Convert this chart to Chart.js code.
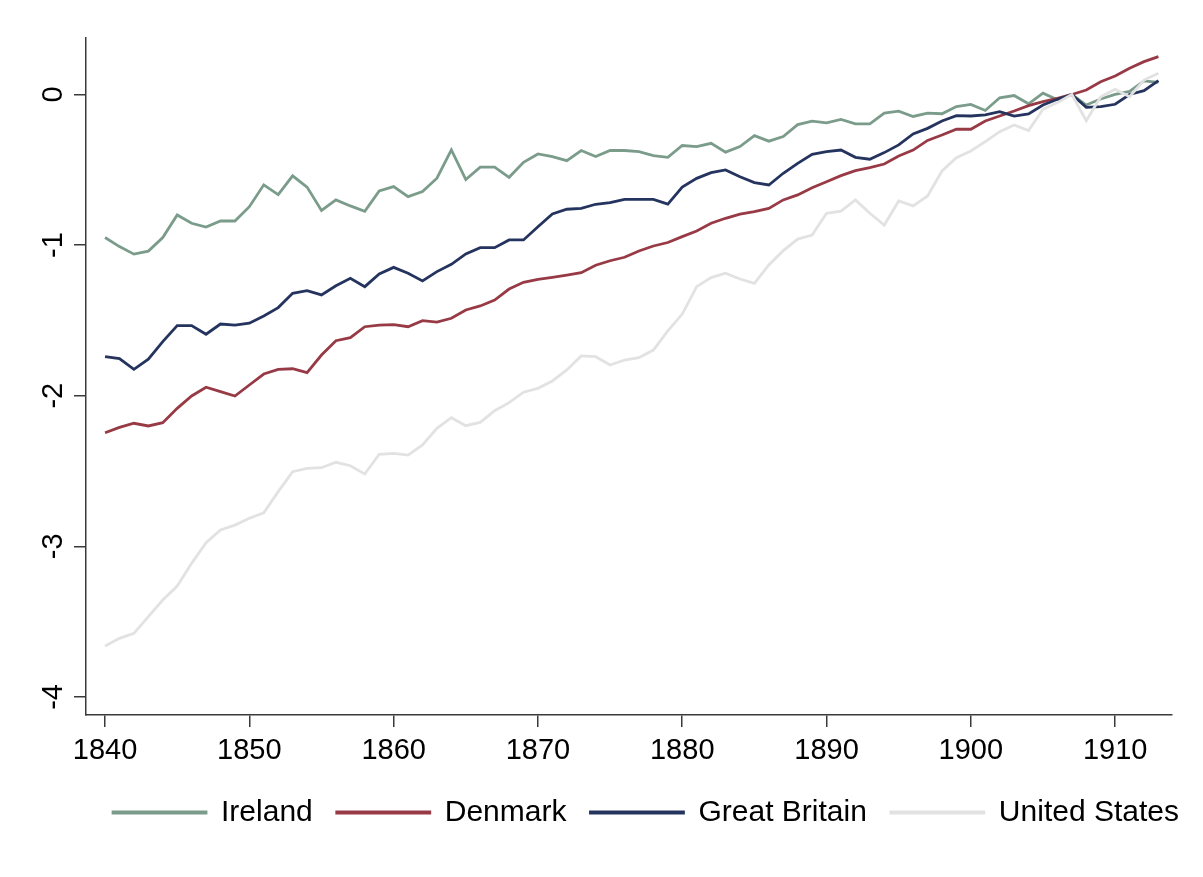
<!DOCTYPE html>
<html>
<head>
<meta charset="utf-8">
<script src="https://cdn.jsdelivr.net/npm/chart.js@4.4.1/dist/chart.umd.min.js"></script>
<style>
  html, body { margin: 0; padding: 0; background: #fff; }
  #wrap { width: 1203px; height: 877px; position: relative; }
</style>
</head>
<body>
<div id="wrap"><canvas id="chart"></canvas></div>
<script>
'use strict';

const years = [
  1840, 1841, 1842, 1843, 1844, 1845, 1846, 1847, 1848, 1849,
  1850, 1851, 1852, 1853, 1854, 1855, 1856, 1857, 1858, 1859,
  1860, 1861, 1862, 1863, 1864, 1865, 1866, 1867, 1868, 1869,
  1870, 1871, 1872, 1873, 1874, 1875, 1876, 1877, 1878, 1879,
  1880, 1881, 1882, 1883, 1884, 1885, 1886, 1887, 1888, 1889,
  1890, 1891, 1892, 1893, 1894, 1895, 1896, 1897, 1898, 1899,
  1900, 1901, 1902, 1903, 1904, 1905, 1906, 1907, 1908, 1909,
  1910, 1911, 1912, 1913
];

const ireland = [
  -0.95, -1.01, -1.06, -1.04, -0.95, -0.80, -0.855, -0.88, -0.84, -0.84,
  -0.745, -0.60, -0.665, -0.54, -0.615, -0.77, -0.70, -0.74, -0.775, -0.64,
  -0.612, -0.678, -0.645, -0.556, -0.368, -0.565, -0.483, -0.483, -0.55, -0.45,
  -0.395, -0.412, -0.439, -0.372, -0.412, -0.372, -0.372, -0.379, -0.406, -0.417,
  -0.339, -0.346, -0.324, -0.383, -0.346, -0.273, -0.31, -0.279, -0.20, -0.177,
  -0.188, -0.166, -0.195, -0.195, -0.124, -0.111, -0.146, -0.124, -0.128, -0.08,
  -0.066, -0.106, -0.022, -0.007, -0.062, 0.009, -0.035, 0, -0.07, -0.03,
  0.0, 0.02, 0.09, 0.08
];

const denmark = [
  -2.246, -2.21, -2.183, -2.201, -2.179, -2.084, -2.002, -1.944, -1.973, -2.002,
  -1.929, -1.856, -1.825, -1.821, -1.847, -1.73, -1.635, -1.615, -1.542, -1.531,
  -1.528, -1.542, -1.502, -1.511, -1.486, -1.431, -1.404, -1.365, -1.292, -1.247,
  -1.227, -1.214, -1.199, -1.183, -1.134, -1.104, -1.081, -1.039, -1.006, -0.983,
  -0.944, -0.906, -0.855, -0.822, -0.794, -0.778, -0.756, -0.70, -0.667, -0.619,
  -0.579, -0.539, -0.506, -0.486, -0.462, -0.408, -0.369, -0.305, -0.269, -0.23,
  -0.231, -0.176, -0.143, -0.11, -0.074, -0.048, -0.025, 0, 0.03, 0.085,
  0.123, 0.174, 0.218, 0.251
];

const greatBritain = [
  -1.741, -1.754, -1.825, -1.758, -1.641, -1.535, -1.535, -1.592, -1.524, -1.531,
  -1.519, -1.471, -1.415, -1.32, -1.303, -1.331, -1.27, -1.22, -1.276, -1.192,
  -1.148, -1.187, -1.238, -1.176, -1.128, -1.059, -1.017, -1.017, -0.966, -0.966,
  -0.878, -0.793, -0.762, -0.756, -0.729, -0.718, -0.696, -0.696, -0.696, -0.728,
  -0.615, -0.557, -0.519, -0.501, -0.546, -0.585, -0.601, -0.523, -0.457, -0.397,
  -0.38, -0.369, -0.417, -0.43, -0.386, -0.335, -0.262, -0.225, -0.176, -0.14,
  -0.143, -0.136, -0.114, -0.143, -0.129, -0.07, -0.032, 0, -0.085, -0.081,
  -0.065, 0, 0.025, 0.092
];

const unitedStates = [
  -3.662, -3.611, -3.578, -3.467, -3.357, -3.264, -3.113, -2.976, -2.892, -2.859,
  -2.814, -2.777, -2.637, -2.505, -2.482, -2.478, -2.442, -2.465, -2.52, -2.389,
  -2.383, -2.394, -2.327, -2.217, -2.146, -2.199, -2.177, -2.1, -2.046, -1.977,
  -1.951, -1.902, -1.829, -1.736, -1.741, -1.796, -1.763, -1.748, -1.697, -1.57,
  -1.458, -1.276, -1.216, -1.187, -1.225, -1.254, -1.132, -1.037, -0.96, -0.933,
  -0.789, -0.774, -0.70, -0.789, -0.867, -0.707, -0.74, -0.674, -0.508, -0.42,
  -0.375, -0.313, -0.247, -0.203, -0.24, -0.098, -0.054, 0, -0.174, -0.015,
  0.035, -0.015, 0.096, 0.141
];

const xTicks = [1840, 1850, 1860, 1870, 1880, 1890, 1900, 1910];
const yTicks = [-4, -3, -2, -1, 0];

const FONT = "'Liberation Sans', Arial, sans-serif";
const AXIS = '#3a3a3a';

function series(label, values, color, order) {
  return {
    label: label,
    data: years.map((yr, i) => ({ x: yr, y: values[i] })),
    borderColor: color,
    backgroundColor: color,
    borderWidth: 2.8,
    pointRadius: 0,
    tension: 0,
    fill: false,
    order: order
  };
}

// nudge the legend so it sits where the original one does
const legendShift = {
  id: 'legendShift',
  afterLayout(chart) {
    chart.legend.left += 60;
    chart.legend.right += 60;
  }
};

const ctx = document.getElementById('chart');

new Chart(ctx, {
  type: 'line',
  data: {
    datasets: [
      series('Ireland', ireland, '#7b9c8b', 4),
      series('Denmark', denmark, '#983a45', 3),
      series('Great Britain', greatBritain, '#25345e', 2),
      series('United States', unitedStates, '#e2e2e2', 1)
    ]
  },
  plugins: [legendShift],
  options: {
    responsive: true,
    maintainAspectRatio: false,
    animation: false,
    layout: {
      padding: { top: 38, right: 31, left: 0, bottom: 39.5 }
    },
    plugins: {
      tooltip: { enabled: false },
      legend: {
        position: 'bottom',
        labels: {
          boxWidth: 93,
          boxHeight: 1,
          padding: 24,
          color: '#000',
          font: { family: FONT, size: 30 },
          sort: (a, b) => a.datasetIndex - b.datasetIndex
        }
      }
    },
    scales: {
      x: {
        type: 'linear',
        min: 1838.68,
        max: 1913.94,
        afterBuildTicks: (axis) => { axis.ticks = xTicks.map(v => ({ value: v })); },
        afterFit: (axis) => { axis.height = 58.5; },
        ticks: {
          autoSkip: false,
          maxRotation: 0,
          padding: 7,
          color: '#000',
          font: { family: FONT, size: 29 },
          callback: (v) => String(v)
        },
        grid: {
          drawOnChartArea: false,
          drawTicks: true,
          tickLength: 12,
          color: AXIS,
          lineWidth: 1.5
        },
        border: { display: true, color: AXIS, width: 1.5 }
      },
      y: {
        min: -4.12,
        max: 0.375,
        afterBuildTicks: (axis) => { axis.ticks = yTicks.map(v => ({ value: v })); },
        afterFit: (axis) => { axis.width = 86; },
        ticks: {
          minRotation: 90,
          maxRotation: 90,
          crossAlign: 'center',
          padding: 7,
          color: '#000',
          font: { family: FONT, size: 29 },
          callback: (v) => String(v)
        },
        grid: {
          drawOnChartArea: false,
          drawTicks: true,
          tickLength: 12,
          color: AXIS,
          lineWidth: 1.5
        },
        border: { display: true, color: AXIS, width: 1.5 }
      }
    }
  }
});
</script>
</body>
</html>
